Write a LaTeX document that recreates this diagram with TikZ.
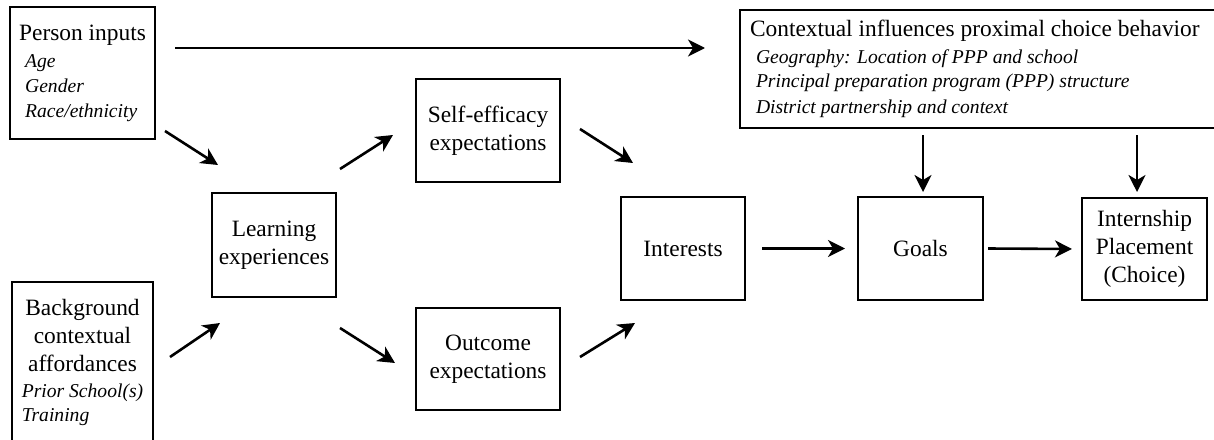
\documentclass[tikz,border=0pt]{standalone}
\usepackage{fontspec}
\setmainfont{Liberation Serif}
\usetikzlibrary{arrows.meta}

\newcommand{\factorfont}{\fontsize{9.8}{12.2}\selectfont\itshape}
\newcommand{\factoritem}[1]{\hspace*{3pt}{\factorfont #1}}

\begin{document}
\begin{tikzpicture}[
x=0.5pt,
y=-0.5pt,
>={Stealth[length=8.5pt,width=8.5pt,inset=2.5pt]},
box/.style={
draw,
line width=1pt,
align=center,
inner sep=2pt,
outer sep=0pt,
font=\fontsize{11.7}{14}\selectfont
},
link/.style={
->,
line width=1.3pt
}
]

\useasboundingbox (0,0) rectangle (1214,439);

% inputs on the left
\node[box,minimum width=72.5pt,minimum height=66pt,align=left] (person) at (82.5,73)
{Person inputs\\[-0.5pt]\factoritem{Age}\\[-1.5pt]\factoritem{Gender}\\[-1.5pt]\factoritem{Race/ethnicity}};
\node[box,minimum width=70.5pt,minimum height=82pt] (background) at (82.5,364)
{Background\\contextual\\affordances\\[-1pt]{\factorfont\begin{tabular}[t]{@{}l@{}}Prior School(s)\\Training\end{tabular}}};

% middle of the model
\node[box,minimum width=62pt,minimum height=52pt] (learning) at (274,245) {Learning\\experiences};
\node[box,minimum width=72pt,minimum height=51.5pt] (selfeff) at (488,130.5) {Self-efficacy\\expectations};
\node[box,minimum width=72pt,minimum height=51pt] (outcome) at (488,359) {Outcome\\expectations};
\node[box,minimum width=62pt,minimum height=51.5pt] (interests) at (683,248.5) {Interests};

% right side
\node[box,minimum width=62.5pt,minimum height=51.5pt] (goals) at (920.5,248.5) {Goals};
\node[box,minimum width=62.5pt,minimum height=51pt] (placement) at (1144.5,249) {Internship\\Placement\\(Choice)};
\node[box,anchor=north west,minimum height=59pt,align=left,inner xsep=5pt] (context) at (740,10)
{Contextual influences proximal choice behavior\rule{6pt}{0pt}\\[-0.5pt]\factoritem{Geography: Location of PPP and school}\\[-2pt]\factoritem{Principal preparation program (PPP) structure}\\[-1pt]\factoritem{District partnership and context}};

\draw[link] ([xshift=10pt,yshift=-20.5pt]person.north east) -- ([xshift=-17.5pt,yshift=-19pt]context.north west);
\draw[link] ([xshift=5pt,yshift=4pt]person.south east) -- ([xshift=3pt,yshift=14pt]learning.north west);
\draw[link] ([xshift=8.5pt,yshift=3.5pt]background.east) -- ([xshift=4pt,yshift=-13pt]learning.south west);
\draw[link] ([xshift=2pt,yshift=12pt]learning.north east) -- ([xshift=-11.5pt,yshift=-2.25pt]selfeff.west);
\draw[link] ([xshift=2pt,yshift=-15.5pt]learning.south east) -- ([xshift=-10.5pt,yshift=-2pt]outcome.west);
\draw[link] ([xshift=10pt,yshift=0.75pt]selfeff.east) -- ([xshift=6pt,yshift=17pt]interests.north west);
\draw[link] ([xshift=10pt,yshift=1pt]outcome.east) -- ([xshift=7pt,yshift=-11.5pt]interests.south west);
\draw[link] ([xshift=8.5pt]interests.east) -- ([xshift=-6.5pt]goals.west);
\draw[link] ([xshift=2.5pt]goals.east) -- ([xshift=-5pt]placement.west);
\draw[link] ([xshift=1.25pt,yshift=31pt]goals.north) -- ([xshift=1.25pt,yshift=2.5pt]goals.north);
\draw[link] ([xshift=-3.75pt,yshift=31.5pt]placement.north) -- ([xshift=-3.75pt,yshift=3pt]placement.north);

\end{tikzpicture}
\end{document}
